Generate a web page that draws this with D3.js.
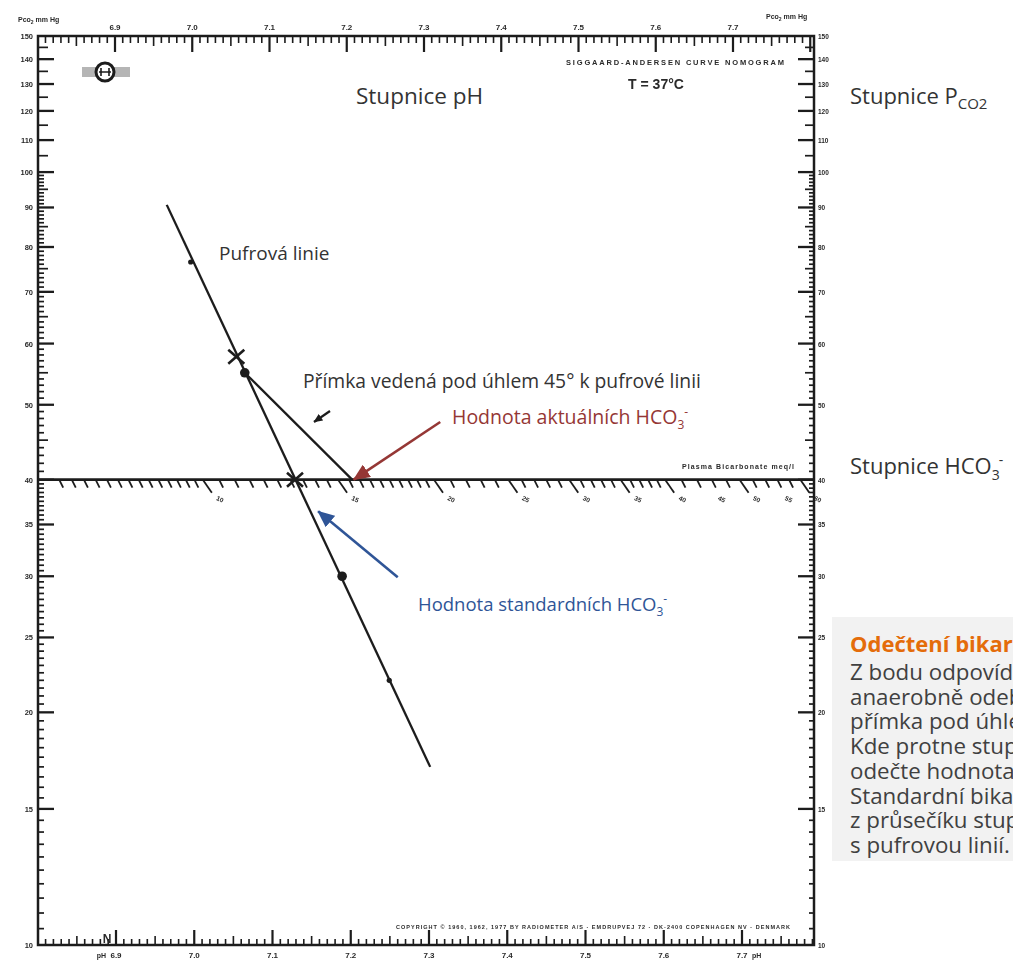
<!DOCTYPE html>
<html>
<head>
<meta charset="utf-8">
<script src="https://cdn.jsdelivr.net/npm/d3@7"></script>
<style>
  body { margin: 0; overflow: hidden; background: #fff; }
  svg { display: block; }
  .scan { font-family: "Liberation Sans", Arial, sans-serif; font-weight: bold; fill: #2a2a2a; }
  .note { font-family: "Open Sans", sans-serif; }
</style>
</head>
<body>
<div id="chart"></div>
<script>
const phLabels = [6.9, 7.0, 7.1, 7.2, 7.3, 7.4, 7.5, 7.6, 7.7];
const pco2Labels = [150, 140, 130, 120, 110, 100, 90, 80, 70, 60, 50, 40, 35, 30, 25, 20, 15, 10];
const hco3Labels = [10, 15, 20, 25, 30, 35, 40, 45, 50, 55, 60];

const bufferLine = [{ ph: 6.967, pco2: 90.7 }, { ph: 7.308, pco2: 17.0 }];
const bufferMarks = [
  { ph: 6.998, pco2: 76.5, kind: "tick" },
  { ph: 7.057, pco2: 57.7, kind: "cross" },
  { ph: 7.068, pco2: 55, kind: "dot" },
  { ph: 7.133, pco2: 40, kind: "cross" },
  { ph: 7.194, pco2: 30, kind: "dot" },
  { ph: 7.255, pco2: 22, kind: "tick" }
];
const line45 = [{ ph: 7.068, pco2: 55 }, { ph: 7.207, pco2: 40 }];
const actualArrow = [{ ph: 7.321, pco2: 47.5 }, { ph: 7.209, pco2: 40 }];
const standardArrow = [{ ph: 7.266, pco2: 29.9 }, { ph: 7.163, pco2: 36.4 }];

const noteHeader = "Odečtení bikarbonátů";
const noteLines = [
  "Z bodu odpovídajícího pCO2 krve",
  "anaerobně odebrané se vede",
  "přímka pod úhlem 45° k pufrové linii.",
  "Kde protne stupnici HCO3-,",
  "odečte hodnota aktuálních HCO3-.",
  "Standardní bikarbonáty se odečtou",
  "z průsečíku stupnice HCO3-",
  "s pufrovou linií."
];

const width = 1013,
  height = 965,
  frame = { left: 38, right: 814, top: 36, bottom: 945 },
  ink = "#1c1c1c";

const x = d3.scaleLinear().domain([6.9, 7.7]).range([115, 733]),
  xBottom = d3.scaleLinear().domain([6.9, 7.7]).range([116, 742]),
  y = d3.scaleLog().domain([10, 150]).range([frame.bottom, frame.top]),
  xHco3 = d3.scaleLog().domain([6.1, 62.5]).range([frame.left, frame.right]),
  fmt = d3.format(".1f");

const svg = d3
  .select("#chart")
  .append("svg")
  .attr("width", width)
  .attr("height", height);

const defs = svg.append("defs");
defs
  .append("filter")
  .attr("id", "soft")
  .append("feGaussianBlur")
  .attr("stdDeviation", 0.35);

[["red", "#953735"], ["blue", "#2f5597"], ["black", ink]].forEach(([id, c]) => {
  defs
    .append("marker")
    .attr("id", "head-" + id)
    .attr("markerUnits", "userSpaceOnUse")
    .attr("viewBox", "0 0 16 14")
    .attr("markerWidth", id === "black" ? 9 : 17)
    .attr("markerHeight", id === "black" ? 8 : 15)
    .attr("refX", 15)
    .attr("refY", 7)
    .attr("orient", "auto")
    .append("path")
    .attr("d", "M0,0 L16,7 L0,14 Z")
    .attr("fill", c);
});

const scan = svg.append("g").attr("filter", "url(#soft)");

// frame
scan
  .append("rect")
  .attr("x", frame.left)
  .attr("y", frame.top)
  .attr("width", frame.right - frame.left)
  .attr("height", frame.bottom - frame.top)
  .attr("fill", "none")
  .attr("stroke", ink)
  .attr("stroke-width", 2.5);

// pH ticks top and bottom
const phTicks = d3.range(680, 781).map(d => d / 100);
const tickLen = (ph, big, mid, small) =>
  Math.round(ph * 100) % 10 === 0 ? big : Math.round(ph * 100) % 5 === 0 ? mid : small;

scan
  .append("g")
  .selectAll("line")
  .data(phTicks.filter(d => x(d) > frame.left + 1 && x(d) < frame.right - 1))
  .join("line")
  .attr("x1", d => x(d))
  .attr("x2", d => x(d))
  .attr("y1", frame.top)
  .attr("y2", d => frame.top + tickLen(d, 16, 10, 7))
  .attr("stroke", ink)
  .attr("stroke-width", d => (tickLen(d, 1, 0, 0) ? 2.2 : 1.6));

scan
  .append("g")
  .selectAll("line")
  .data(phTicks.filter(d => xBottom(d) > frame.left + 1 && xBottom(d) < frame.right - 1))
  .join("line")
  .attr("x1", d => xBottom(d))
  .attr("x2", d => xBottom(d))
  .attr("y1", frame.bottom)
  .attr("y2", d => frame.bottom - tickLen(d, 15, 9, 6))
  .attr("stroke", ink)
  .attr("stroke-width", d => (tickLen(d, 1, 0, 0) ? 2.2 : 1.6));

scan
  .append("g")
  .selectAll("text")
  .data(phLabels)
  .join("text")
  .attr("class", "scan")
  .attr("x", d => x(d))
  .attr("y", 30)
  .attr("text-anchor", "middle")
  .attr("font-size", 8)
  .text(d => fmt(d));

scan
  .append("g")
  .selectAll("text")
  .data(phLabels)
  .join("text")
  .attr("class", "scan")
  .attr("x", d => xBottom(d))
  .attr("y", 958)
  .attr("text-anchor", "middle")
  .attr("font-size", 8)
  .text(d => fmt(d));

scan.append("text").attr("class", "scan").attr("x", xBottom(6.9) - 10).attr("y", 958)
  .attr("text-anchor", "end").attr("font-size", 7).text("pH");
scan.append("text").attr("class", "scan").attr("x", xBottom(7.7) + 10).attr("y", 958)
  .attr("font-size", 7).text("pH");
scan.append("text").attr("class", "scan").attr("x", 107).attr("y", 943)
  .attr("text-anchor", "middle").attr("font-size", 12).text("N");

// pCO2 ticks left and right
const pco2Ticks = d3.range(10, 40, 0.5).concat(d3.range(40, 100, 1), d3.range(100, 151, 5));
const pLen = (p, big, mid, small) =>
  pco2Labels.includes(p) ? big : p % 5 === 0 ? mid : small;

scan
  .append("g")
  .selectAll("line")
  .data(pco2Ticks.filter(p => p > 10 && p < 150))
  .join("line")
  .attr("x1", frame.left)
  .attr("x2", p => frame.left + pLen(p, 16, 10, 6))
  .attr("y1", p => y(p))
  .attr("y2", p => y(p))
  .attr("stroke", ink)
  .attr("stroke-width", p => (pLen(p, 1, 0, 0) ? 2.3 : 1.7));

scan
  .append("g")
  .selectAll("line")
  .data(pco2Ticks.filter(p => p > 10 && p < 150))
  .join("line")
  .attr("x1", frame.right)
  .attr("x2", p => frame.right - pLen(p, 16, 9, 5))
  .attr("y1", p => y(p))
  .attr("y2", p => y(p))
  .attr("stroke", ink)
  .attr("stroke-width", p => (pLen(p, 1, 0, 0) ? 2.3 : 1.7));

scan
  .append("g")
  .selectAll("text")
  .data(pco2Labels)
  .join("text")
  .attr("class", "scan")
  .attr("x", frame.left - 5)
  .attr("y", p => y(p) + 3)
  .attr("text-anchor", "end")
  .attr("font-size", 7.5)
  .text(p => p);

scan
  .append("g")
  .selectAll("text")
  .data(pco2Labels)
  .join("text")
  .attr("class", "scan")
  .attr("x", frame.right + 4)
  .attr("y", p => y(p) + 3)
  .attr("font-size", 6.5)
  .text(p => p);

[[18, 22], [766, 19]].forEach(([tx, ty]) => {
  const t = scan.append("text").attr("class", "scan").attr("x", tx).attr("y", ty).attr("font-size", 7);
  t.append("tspan").text("Pco");
  t.append("tspan").attr("font-size", 5).attr("dy", 2).text("2");
  t.append("tspan").attr("dy", -2).text(" mm Hg");
});

// titles of the nomogram
scan.append("text").attr("class", "scan").attr("x", 566).attr("y", 65)
  .attr("font-size", 7.5).attr("textLength", 218).text("SIGGAARD-ANDERSEN CURVE NOMOGRAM");
scan.append("text").attr("class", "scan").attr("x", 656).attr("y", 89)
  .attr("text-anchor", "middle").attr("font-size", 14).text("T = 37°C");
scan.append("text").attr("class", "scan").attr("x", 396).attr("y", 929)
  .attr("font-size", 5.5).attr("textLength", 394)
  .text("COPYRIGHT © 1960, 1962, 1977 BY RADIOMETER A/S · EMDRUPVEJ 72 · DK-2400 COPENHAGEN NV · DENMARK");
scan.append("text").attr("class", "scan").attr("x", 682).attr("y", 469)
  .attr("font-size", 7).attr("textLength", 112).text("Plasma Bicarbonate meq/l");

// logo
scan.append("rect").attr("x", 82).attr("y", 67).attr("width", 48).attr("height", 10).attr("fill", "#b5b5b5");
scan.append("circle").attr("cx", 105).attr("cy", 72).attr("r", 9)
  .attr("fill", "#fff").attr("stroke", ink).attr("stroke-width", 3);
scan.append("path").attr("d", "M99,72H111M101,68V76M109,68V76")
  .attr("stroke", ink).attr("stroke-width", 1.6).attr("fill", "none");

// HCO3 scale on the pCO2 = 40 line
const hco3Ticks = d3.range(6.5, 10, 0.25).concat(d3.range(10, 20, 0.5), d3.range(20, 40, 1), d3.range(40, 62, 2));
const y40 = y(40);

scan
  .append("line")
  .attr("x1", frame.left)
  .attr("x2", frame.right)
  .attr("y1", y40)
  .attr("y2", y40)
  .attr("stroke", ink)
  .attr("stroke-width", 2.6);

scan
  .append("g")
  .selectAll("line")
  .data(hco3Ticks)
  .join("line")
  .attr("x1", d => xHco3(d))
  .attr("y1", y40)
  .attr("x2", d => xHco3(d) + (hco3Labels.includes(d) ? 9 : 4))
  .attr("y2", d => y40 + (hco3Labels.includes(d) ? 13 : 8))
  .attr("stroke", ink)
  .attr("stroke-width", 1.8);

scan
  .append("g")
  .selectAll("text")
  .data(hco3Labels)
  .join("text")
  .attr("class", "scan")
  .attr("transform", d => `translate(${xHco3(d) + 13},${y40 + 20}) rotate(25)`)
  .attr("font-size", 6.5)
  .text(d => d);

// buffer line and the 45 degree line
const path = d3
  .line()
  .x(d => x(d.ph))
  .y(d => y(d.pco2));

scan
  .append("path")
  .attr("d", path(bufferLine))
  .attr("stroke", ink)
  .attr("stroke-width", 2.3)
  .attr("fill", "none");

scan
  .append("path")
  .attr("d", path(line45))
  .attr("stroke", ink)
  .attr("stroke-width", 2.3)
  .attr("fill", "none");

const marks = scan.append("g").selectAll("g").data(bufferMarks).join("g")
  .attr("transform", d => `translate(${x(d.ph)},${y(d.pco2)})`);

marks.filter(d => d.kind === "dot").append("circle").attr("r", 4.8).attr("fill", ink);
marks.filter(d => d.kind === "tick").append("circle").attr("r", 2.6).attr("fill", ink);
marks.filter(d => d.kind === "cross").append("path")
  .attr("d", "M-8,-7L8,7M8,-7L-8,7")
  .attr("stroke", ink)
  .attr("stroke-width", 2.6);

// small printed arrow under the 45 degree note
scan.append("line").attr("x1", 330).attr("y1", 411).attr("x2", 314).attr("y2", 422)
  .attr("stroke", ink).attr("stroke-width", 2.2).attr("marker-end", "url(#head-black)");

// annotations
const notes = svg.append("g").attr("class", "note");

notes.append("text").attr("x", 356).attr("y", 104).attr("font-size", 22.5).attr("fill", "#333").text("Stupnice pH");

const pco2Title = notes.append("text").attr("x", 850).attr("y", 104).attr("font-size", 22).attr("fill", "#333");
pco2Title.append("tspan").text("Stupnice P");
pco2Title.append("tspan").attr("font-size", 15).attr("dy", 5).text("CO2");

const hcoTitle = notes.append("text").attr("x", 850).attr("y", 474).attr("font-size", 22).attr("fill", "#333");
hcoTitle.append("tspan").text("Stupnice HCO");
hcoTitle.append("tspan").attr("font-size", 14).attr("dy", 6).text("3");
hcoTitle.append("tspan").attr("font-size", 14).attr("dy", -15).attr("dx", -1).text("-");

notes.append("text").attr("x", 219).attr("y", 260).attr("font-size", 19).attr("fill", "#333").text("Pufrová linie");
notes.append("text").attr("x", 303).attr("y", 388).attr("font-size", 19.3).attr("fill", "#333")
  .text("Přímka vedená pod úhlem 45° k pufrové linii");

const actual = notes.append("text").attr("x", 452).attr("y", 424).attr("font-size", 19.5).attr("fill", "#953735");
actual.append("tspan").text("Hodnota aktuálních HCO");
actual.append("tspan").attr("font-size", 12).attr("dy", 5).text("3");
actual.append("tspan").attr("font-size", 12).attr("dy", -13).text("-");

const standard = notes.append("text").attr("x", 418).attr("y", 611).attr("font-size", 18.5).attr("fill", "#2f5597");
standard.append("tspan").text("Hodnota standardních HCO");
standard.append("tspan").attr("font-size", 12).attr("dy", 5).text("3");
standard.append("tspan").attr("font-size", 12).attr("dy", -13).text("-");

svg.append("path")
  .attr("d", path(actualArrow))
  .attr("stroke", "#953735")
  .attr("stroke-width", 2.6)
  .attr("fill", "none")
  .attr("marker-end", "url(#head-red)");

svg.append("path")
  .attr("d", path(standardArrow))
  .attr("stroke", "#2f5597")
  .attr("stroke-width", 2.6)
  .attr("fill", "none")
  .attr("marker-end", "url(#head-blue)");

// explanation box
const box = svg.append("g").attr("class", "note");
box.append("rect").attr("x", 832).attr("y", 617).attr("width", 200).attr("height", 244).attr("fill", "#f2f2f2");
box.append("text").attr("x", 850).attr("y", 652).attr("font-size", 22).attr("font-weight", "bold")
  .attr("fill", "#e46c0a").text(noteHeader);
box.append("g")
  .selectAll("text")
  .data(noteLines)
  .join("text")
  .attr("x", 850)
  .attr("y", (d, i) => 680 + i * 24.7)
  .attr("font-size", 22.3)
  .attr("fill", "#404040")
  .text(d => d);
</script>
</body>
</html>
